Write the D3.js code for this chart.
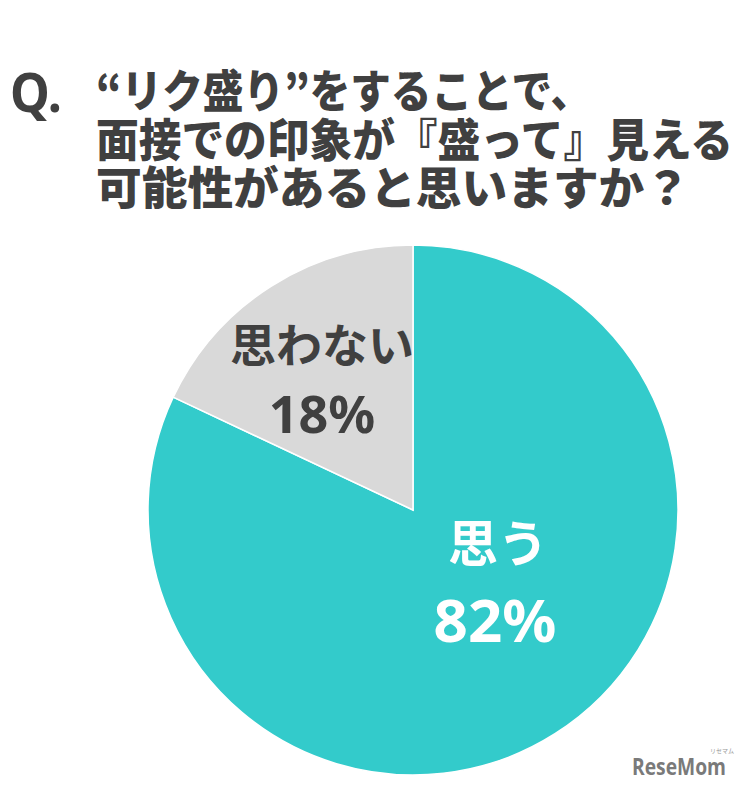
<!DOCTYPE html>
<html><head><meta charset="utf-8">
<script src="https://cdn.jsdelivr.net/npm/d3@7"></script>
<style>body{margin:0;background:#fff}svg{display:block}</style>
</head><body>
<script>
const categories = ["思う", "思わない"];
const values = [82, 18];
const valueLabels = ["82%", "18%"];
const titleLines = ["“リク盛り”をすることで、", "面接での印象が『盛って』見える", "可能性があると思いますか？"];

const W = 742, H = 788;
const svg = d3.select("body").append("svg").attr("width", W).attr("height", H);
const font = "'Noto Sans CJK JP', 'Noto Sans', sans-serif";
const dark = "#404040";

// Title
svg.append("text").attr("x", 10).attr("y", 112).attr("font-family", "'Noto Sans', sans-serif").attr("font-weight", 700)
  .attr("font-size", 54).attr("fill", dark).attr("textLength", 52).attr("lengthAdjust", "spacingAndGlyphs").text("Q.");
const lineY = [108, 157, 205];
const lineLen = [495, 637, 594];
titleLines.forEach((t, i) => {
  svg.append("text").attr("x", 96).attr("y", lineY[i]).attr("font-family", font).attr("font-weight", 900)
    .attr("font-size", 45).attr("fill", dark)
    .attr("textLength", lineLen[i]).attr("lengthAdjust", "spacingAndGlyphs").text(t);
});

// Pie
const cx = 413, cy = 510, r = 265;
const color = d3.scaleOrdinal().domain(categories).range(["#33CBCB", "#D9D9D9"]);
const pie = d3.pie().sort(null).value(d => d.v);
const data = pie(categories.map((c, i) => ({c, v: values[i], l: valueLabels[i]})));
const arc = d3.arc().innerRadius(0).outerRadius(r);
const g = svg.append("g").attr("transform", `translate(${cx},${cy})`);
g.selectAll("path").data(data).join("path").attr("d", arc)
  .attr("fill", d => color(d.data.c)).attr("stroke", "#fff").attr("stroke-width", 1.5);

// Labels
const labelPos = [[85, 52, 82, 132, 50, 60], [-91, -148, -91, -77, 46, 52]];
const txtColor = ["#ffffff", dark];
data.forEach((d, i) => {
  const [x1, y1, x2, y2, f1, f2] = labelPos[i];
  g.append("text").attr("x", x1).attr("y", y1).attr("text-anchor", "middle").attr("font-family", font)
    .attr("font-weight", 700).attr("font-size", f1).attr("fill", txtColor[i]).text(d.data.c);
  g.append("text").attr("x", x2).attr("y", y2).attr("text-anchor", "middle").attr("font-family", "'Noto Sans', sans-serif")
    .attr("font-weight", 700).attr("font-size", f2).attr("fill", txtColor[i]).text(d.data.l);
});

// Watermark
svg.append("text").attr("x", 632).attr("y", 775).attr("font-family", "'Open Sans', 'DejaVu Sans', sans-serif")
  .attr("font-weight", 700).attr("font-size", 23).attr("fill", "#7a7a7a")
  .attr("textLength", 94).attr("lengthAdjust", "spacingAndGlyphs").text("ReseMom");
svg.append("text").attr("x", 710).attr("y", 753).attr("font-family", font).attr("font-size", 6).attr("fill", "#999").text("リセマム");
</script>
</body></html>
